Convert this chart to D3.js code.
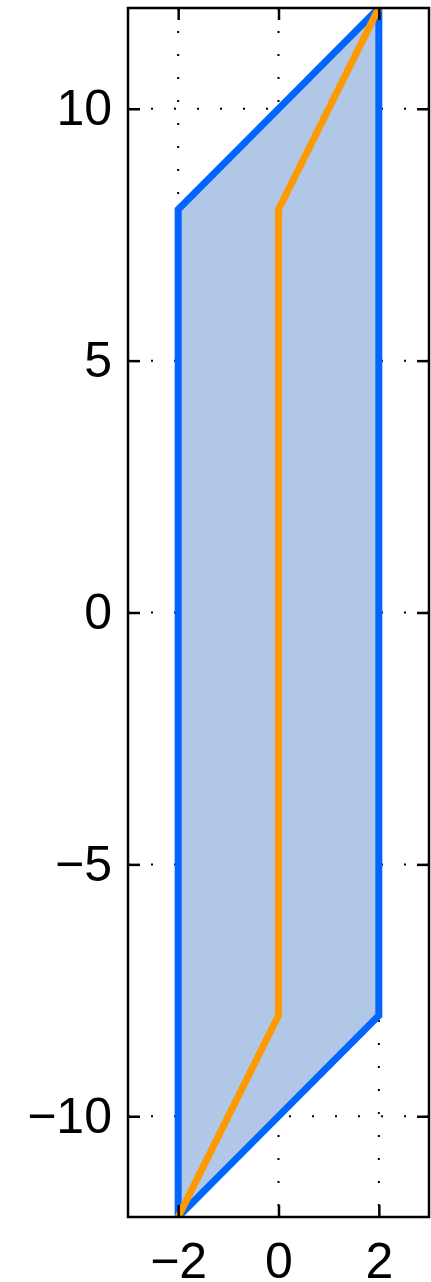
<!DOCTYPE html>
<html>
<head>
<meta charset="utf-8">
<script src="https://cdn.jsdelivr.net/npm/d3@7"></script>
<style>
    body { margin: 0; background: #fff; }
    svg { display: block; }
    .tick text { font-family: "Liberation Sans", Arial, sans-serif; font-size: 50px; fill: #000; }
</style>
</head>
<body>
<div id="chart"></div>
<script>
// region outline (x, y)
const regionX = [-2, 2, 2, -2];
const regionY = [8, 12, -8, -12];
// centre line
const centerX = [-2, 0, 0, 2];
const centerY = [-12, -8, 8, 12];
const xTicks = [-2, 0, 2];
const yTicks = [-10, -5, 0, 5, 10];
const xDomain = [-3, 3];
const yDomain = [-12, 12];

const width = 431, height = 1282;
const margin = { left: 128, right: 2, top: 8, bottom: 65 };
const w = width - margin.left - margin.right;
const h = height - margin.top - margin.bottom;

const svg = d3.select("#chart").append("svg")
    .attr("width", width)
    .attr("height", height)
    .append("g")
    .attr("transform", "translate(" + margin.left + "," + margin.top + ")");

const xScale = d3.scaleLinear().domain(xDomain).range([0, w]);
const yScale = d3.scaleLinear().domain(yDomain).range([h, 0]);

const fmt = d => (d < 0 ? "\u2212" + Math.abs(d) : "" + d);

svg.append("defs").append("clipPath").attr("id", "plot-clip")
    .append("rect").attr("width", w).attr("height", h);

// dotted grid
svg.append("g").selectAll("line").data(xTicks).enter().append("line")
    .attr("x1", d => xScale(d)).attr("x2", d => xScale(d))
    .attr("y1", 0).attr("y2", h)
    .attr("stroke", "#000").attr("stroke-width", 2)
    .attr("stroke-dasharray", "2,21");
svg.append("g").selectAll("line").data(yTicks).enter().append("line")
    .attr("x1", 0).attr("x2", w)
    .attr("y1", d => yScale(d)).attr("y2", d => yScale(d))
    .attr("stroke", "#000").attr("stroke-width", 2)
    .attr("stroke-dasharray", "2,21");

const plot = svg.append("g").attr("clip-path", "url(#plot-clip)");

const region = regionX.map((x, i) => ({ x: x, y: regionY[i] }));
const center = centerX.map((x, i) => ({ x: x, y: centerY[i] }));

plot.append("path")
    .datum(region)
    .attr("fill", "#b0c7e8")
    .attr("stroke", "#0066ff")
    .attr("stroke-width", 7)
    .attr("d", d3.line()
        .curve(d3.curveLinearClosed)
        .x(d => xScale(d.x))
        .y(d => yScale(d.y)));

plot.append("path")
    .datum(center)
    .attr("fill", "none")
    .attr("stroke", "#ff9900")
    .attr("stroke-width", 7)
    .attr("d", d3.line()
        .x(d => xScale(d.x))
        .y(d => yScale(d.y)));

// axes (inward ticks, mirrored on top and right)
svg.append("g")
    .attr("transform", "translate(0," + h + ")")
    .call(d3.axisBottom(xScale).tickValues(xTicks).tickFormat(fmt).tickSize(-12).tickPadding(25))
    .call(g => g.select(".domain").remove());
svg.append("g")
    .call(d3.axisTop(xScale).tickValues(xTicks).tickFormat("").tickSize(-12))
    .call(g => g.select(".domain").remove());
svg.append("g")
    .call(d3.axisLeft(yScale).tickValues(yTicks).tickFormat(fmt).tickSize(-12).tickPadding(16))
    .call(g => g.select(".domain").remove());
svg.append("g")
    .attr("transform", "translate(" + w + ",0)")
    .call(d3.axisRight(yScale).tickValues(yTicks).tickFormat("").tickSize(-12))
    .call(g => g.select(".domain").remove());

svg.selectAll(".tick line").attr("stroke", "#000").attr("stroke-width", 2.5);

svg.append("rect")
    .attr("width", w).attr("height", h)
    .attr("fill", "none")
    .attr("stroke", "#000")
    .attr("stroke-width", 2.5);
</script>
</body>
</html>
